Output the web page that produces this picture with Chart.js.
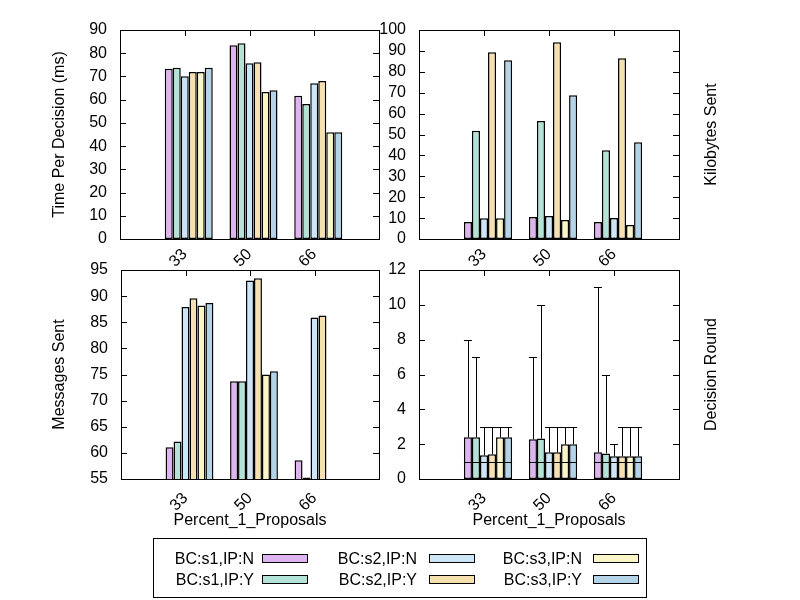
<!DOCTYPE html>
<html>
<head>
  <meta charset="UTF-8">
  <title>Percent_1_Proposals</title>
  <script src="https://cdn.jsdelivr.net/npm/chart.js"></script>
  <style>
    body { margin: 0; background: #fff; }
    #wrap { position: relative; width: 800px; height: 600px; overflow: hidden; }
    canvas { position: absolute; left: 0; top: 0; }
    #legend { position: absolute; left: 153px; top: 538px; width: 494px; height: 60px;
              border: 1px solid #000; box-sizing: border-box; }
    .lt { position: absolute; width: 130px; text-align: right; font: 16px 'Liberation Sans', Arial, sans-serif;
          line-height: 18px; color: #000; white-space: nowrap; }
    .sw { position: absolute; width: 46px; height: 9px; border: 1px solid #000; box-sizing: border-box; }
  </style>
</head>
<body>
<div id="wrap">
  <canvas id="c1" width="800" height="600"></canvas>
  <canvas id="c2" width="800" height="600"></canvas>
  <canvas id="c3" width="800" height="600"></canvas>
  <canvas id="c4" width="800" height="600"></canvas>
  <div id="legend"></div>
</div>

<script>
  // datos
  const categories = ['33', '50', '66'];
  const seriesNames = ['BC:s1,IP:N', 'BC:s1,IP:Y', 'BC:s2,IP:N', 'BC:s2,IP:Y', 'BC:s3,IP:N', 'BC:s3,IP:Y'];
  const seriesColors = ['#dfb3ef', '#b3e3d6', '#cce6f7', '#f6e0b0', '#fbf6c8', '#b3d3e8'];

  const timePerDecision = [
    [73.3, 83.4, 61.7],
    [73.7, 84.3, 58.1],
    [70.1, 75.7, 67.1],
    [71.9, 76.1, 68.0],
    [71.9, 63.3, 46.0],
    [73.7, 64.1, 46.0]
  ];
  const kilobytesSent = [
    [8.1, 10.5, 8.1],
    [51.8, 56.5, 42.5],
    [9.9, 11.0, 10.0],
    [89.3, 94.1, 86.5],
    [9.9, 9.1, 6.7],
    [85.5, 68.8, 46.3]
  ];
  const messagesSent = [
    [61.1, 73.7, 58.6],
    [62.2, 73.7, 55.3],
    [87.9, 93.0, 85.9],
    [89.6, 93.4, 86.3],
    [88.2, 75.0, null],
    [88.7, 75.6, null]
  ];
  const roundsMean = [
    [2.39, 2.28, 1.53],
    [2.39, 2.33, 1.47],
    [1.36, 1.53, 1.30],
    [1.42, 1.53, 1.30],
    [2.39, 1.99, 1.30],
    [2.39, 2.00, 1.30]
  ];
  const roundsMin = [
    [1, 1, 1], [1, 1, 1], [1, 1, 1], [1, 1, 1], [1, 1, 1], [1, 1, 1]
  ];
  const roundsMax = [
    [8, 7, 11],
    [7, 10, 6],
    [3, 3, 2],
    [3, 3, 3],
    [3, 3, 3],
    [3, 3, 3]
  ];

  Chart.defaults.font.family = "'Liberation Sans', Arial, sans-serif";
  Chart.defaults.font.size = 16;
  Chart.defaults.color = '#000';

  const labels = ['', ...categories, ''];
  const pad = arr => [null, ...arr, null];

  // marco y marcas hacia adentro, estilo gnuplot
  const frame = {
    id: 'frame',
    beforeDatasetsDraw(chart) {
      const { ctx, chartArea: a, scales: { x, y } } = chart;
      ctx.save();
      ctx.strokeStyle = '#000';
      ctx.lineWidth = 1;
      ctx.beginPath();
      for (let i = 1; i <= categories.length; i++) {
        const px = Math.round(x.getPixelForValue(i)) + 0.5;
        ctx.moveTo(px, a.top); ctx.lineTo(px, a.top + 6);
        ctx.moveTo(px, a.bottom); ctx.lineTo(px, a.bottom - 6);
      }
      y.ticks.forEach(t => {
        const py = Math.round(y.getPixelForValue(t.value)) + 0.5;
        ctx.moveTo(a.left, py); ctx.lineTo(a.left + 6, py);
        ctx.moveTo(a.right, py); ctx.lineTo(a.right - 6, py);
      });
      ctx.stroke();
      ctx.restore();
    },
    afterDatasetsDraw(chart) {
      const { ctx, chartArea: a } = chart;
      ctx.save();
      ctx.strokeStyle = '#000';
      ctx.lineWidth = 1;
      ctx.strokeRect(Math.round(a.left) + 0.5, Math.round(a.top) + 0.5,
                     Math.round(a.right - a.left), Math.round(a.bottom - a.top));
      ctx.restore();
    }
  };

  // titulo del eje derecho
  const sideTitle = {
    id: 'sideTitle',
    afterDraw(chart, args, opts) {
      if (!opts.text) return;
      const { ctx, chartArea: a } = chart;
      ctx.save();
      ctx.translate(opts.x, (a.top + a.bottom) / 2);
      ctx.rotate(-Math.PI / 2);
      ctx.font = "16px 'Liberation Sans', Arial, sans-serif";
      ctx.fillStyle = '#000';
      ctx.textAlign = 'center';
      ctx.textBaseline = 'middle';
      ctx.fillText(opts.text, 0, 0);
      ctx.restore();
    }
  };

  // barras de error (minimo y maximo)
  const errorBars = {
    id: 'errorBars',
    afterDatasetsDraw(chart, args, opts) {
      if (!opts.max) return;
      const { ctx, scales: { y } } = chart;
      ctx.save();
      ctx.strokeStyle = '#000';
      ctx.lineWidth = 1;
      ctx.beginPath();
      chart.data.datasets.forEach((ds, d) => {
        const i = ds.serie;
        if (i === undefined) return;
        chart.getDatasetMeta(d).data.forEach((el, j) => {
          if (j === 0 || j > categories.length) return;
          const lo = opts.min[i][j - 1], hi = opts.max[i][j - 1];
          const xc = Math.round(el.x) + 0.5;
          const half = el.width / 2;
          const yLo = Math.round(y.getPixelForValue(lo)) + 0.5;
          const yHi = Math.round(y.getPixelForValue(hi)) + 0.5;
          ctx.moveTo(el.x - half, yLo); ctx.lineTo(el.x + half, yLo);
          ctx.moveTo(xc, el.y); ctx.lineTo(xc, yHi);
          ctx.moveTo(el.x - half, yHi); ctx.lineTo(el.x + half, yHi);
        });
      });
      ctx.stroke();
      ctx.restore();
    }
  };

  function crearPanel(id, p) {
    const barra = { barPercentage: 1.0, categoryPercentage: 0.865 };
    // hueco vacio al inicio del grupo, como en el histograma de gnuplot
    const datasets = [{ label: '', data: labels.map(() => null), ...barra }];
    p.values.forEach((v, i) => datasets.push({
      label: seriesNames[i],
      serie: i,
      data: pad(v),
      backgroundColor: seriesColors[i],
      borderColor: '#000',
      borderWidth: 1.5,
      borderSkipped: false,
      ...barra
    }));

    new Chart(document.getElementById(id), {
      type: 'bar',
      data: { labels, datasets },
      options: {
        responsive: false,
        animation: false,
        events: [],
        layout: { padding: p.padding },
        plugins: {
          legend: { display: false },
          tooltip: { enabled: false },
          sideTitle: { text: p.rightTitle, x: 712 },
          errorBars: { min: p.min, max: p.max }
        },
        scales: {
          x: {
            type: 'category',
            offset: false,
            grid: { display: false },
            border: { display: false },
            ticks: { autoSkip: false, minRotation: 45, maxRotation: 45, padding: p.xPad },
            title: { display: !!p.xTitle, text: p.xTitle, padding: 0 },
            afterFit: s => { s.height = p.xHeight; }
          },
          y: {
            min: p.yMin, max: p.yMax,
            grid: { display: false },
            border: { display: false },
            ticks: { stepSize: p.step, padding: 5, autoSkip: false },
            title: { display: !!p.leftTitle, text: p.leftTitle, padding: 0 },
            afterFit: s => { s.width = p.yWidth; }
          }
        }
      },
      plugins: [frame, sideTitle, errorBars]
    });
  }

  crearPanel('c1', {
    values: timePerDecision, yMin: 0, yMax: 90, step: 10,
    leftTitle: 'Time Per Decision (ms)', xPad: -2,
    padding: { left: 50, top: 30, right: 421, bottom: 331 }, yWidth: 70, xHeight: 30
  });
  crearPanel('c2', {
    values: kilobytesSent, yMin: 0, yMax: 100, step: 10,
    rightTitle: 'Kilobytes Sent', xPad: -2,
    padding: { left: 360, top: 30, right: 121, bottom: 331 }, yWidth: 59, xHeight: 30
  });
  crearPanel('c3', {
    values: messagesSent, yMin: 55, yMax: 95, step: 5,
    leftTitle: 'Messages Sent', xTitle: 'Percent_1_Proposals', xPad: 2,
    padding: { left: 50, top: 270, right: 421, bottom: 70 }, yWidth: 71, xHeight: 51
  });
  crearPanel('c4', {
    values: roundsMean, yMin: 0, yMax: 12, step: 2,
    rightTitle: 'Decision Round', xTitle: 'Percent_1_Proposals', xPad: 2,
    min: roundsMin, max: roundsMax,
    padding: { left: 360, top: 270, right: 121, bottom: 70 }, yWidth: 59, xHeight: 51
  });

  // leyenda en tres columnas
  const legend = document.getElementById('legend');
  const textRight = [100, 263, 428];
  const swatchLeft = [108, 275, 439];
  const rowMid = [20, 41];
  seriesNames.forEach((name, i) => {
    const col = Math.floor(i / 2), row = i % 2;
    const t = document.createElement('div');
    t.className = 'lt';
    t.textContent = name;
    t.style.left = (textRight[col] - 130) + 'px';
    t.style.top = (rowMid[row] - 9) + 'px';
    legend.appendChild(t);
    const s = document.createElement('div');
    s.className = 'sw';
    s.style.left = swatchLeft[col] + 'px';
    s.style.top = (rowMid[row] - 5) + 'px';
    s.style.background = seriesColors[i];
    legend.appendChild(s);
  });
</script>
</body>
</html>
